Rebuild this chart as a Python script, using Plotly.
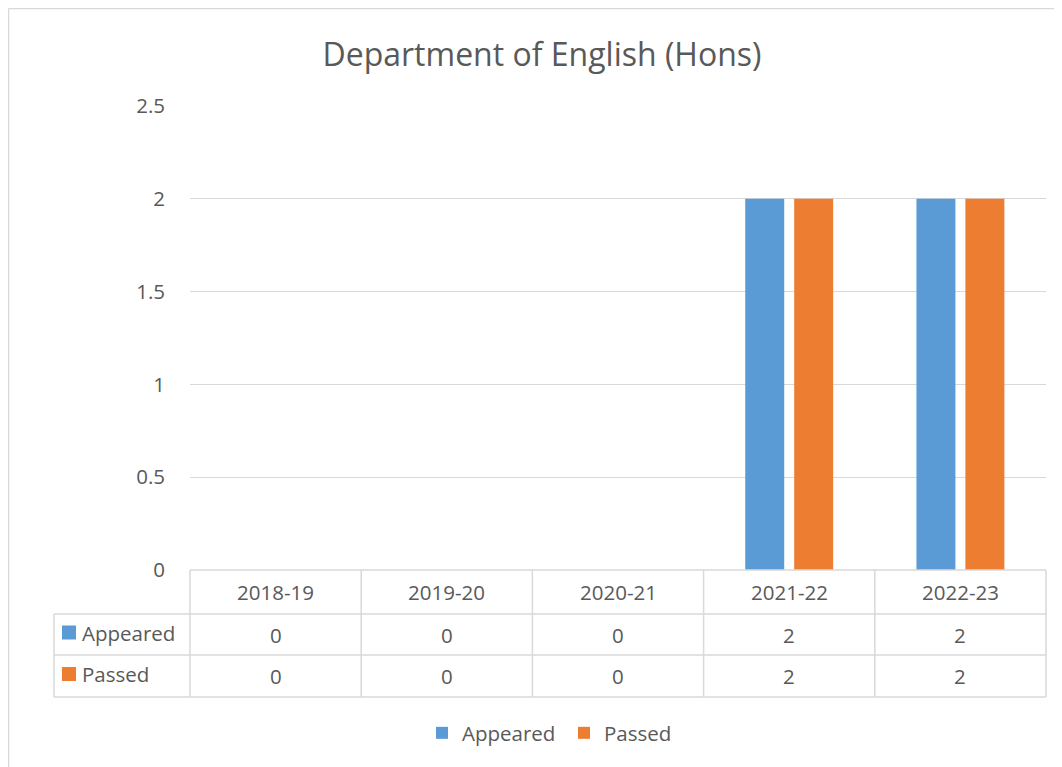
import plotly.graph_objects as go

categories = ["2018-19", "2019-20", "2020-21", "2021-22", "2022-23"]
appeared = [0, 0, 0, 2, 2]
passed = [0, 0, 0, 2, 2]
series_names = ["Appeared", "Passed"]
colors = ["#5B9BD5", "#ED7D31"]
title_text = "Department of English (Hons)"

OFF = 8  # page body margin offset
W, H = 1062 - OFF, 767 - OFF
PL, PR, PT, PB = 190, 1046, 106, 570  # plot area in reference page pixels
FONT = "'Open Sans', Lato, sans-serif"
TXT = "#595959"
GRID = "#d9d9d9"
FS = 20.5


def px(x):
    return (x - PL) / (PR - PL)


def py(y):
    return (PB - y) / (PB - PT)


fig = go.Figure()
for name, vals, col in zip(series_names, [appeared, passed], colors):
    fig.add_trace(go.Bar(x=categories, y=vals, name=name, marker=dict(color=col, line=dict(width=0))))

shapes = []
line = dict(color=GRID, width=1.5)
# outer chart border (top and left)
shapes.append(dict(type="line", xref="paper", yref="paper", x0=px(8.5), x1=px(1080), y0=py(8.5), y1=py(8.5), line=line))
shapes.append(dict(type="line", xref="paper", yref="paper", x0=px(8.5), x1=px(8.5), y0=py(8.5), y1=py(790), line=line))

# data table
ncat = len(categories)
colw = (PR - PL) / ncat
row_y = [570, 614, 655, 697]
label_x = 54
shapes.append(dict(type="line", xref="paper", yref="paper", x0=px(PL), x1=px(PR), y0=py(row_y[0]), y1=py(row_y[0]), line=line))
for yy in row_y[1:]:
    shapes.append(dict(type="line", xref="paper", yref="paper", x0=px(label_x), x1=px(PR), y0=py(yy), y1=py(yy), line=line))
shapes.append(dict(type="line", xref="paper", yref="paper", x0=px(label_x), x1=px(label_x), y0=py(row_y[1]), y1=py(row_y[3]), line=line))
for i in range(ncat + 1):
    xx = PL + i * colw
    shapes.append(dict(type="line", xref="paper", yref="paper", x0=px(xx), x1=px(xx), y0=py(row_y[0]), y1=py(row_y[3]), line=line))

annotations = []
tfont = dict(family=FONT, size=FS, color=TXT)
for i, c in enumerate(categories):
    cx = PL + (i + 0.5) * colw
    annotations.append(dict(xref="paper", yref="paper", x=px(cx), y=py((row_y[0] + row_y[1]) / 2),
                            text=c, showarrow=False, font=tfont, xanchor="center", yanchor="middle"))
    for r, vals in enumerate([appeared, passed]):
        annotations.append(dict(xref="paper", yref="paper", x=px(cx), y=py((row_y[r + 1] + row_y[r + 2]) / 2),
                                text=str(vals[i]), showarrow=False, font=tfont, xanchor="center", yanchor="middle"))
for r, (name, col) in enumerate(zip(series_names, colors)):
    yc = (row_y[r + 1] + row_y[r + 2]) / 2 - 2
    shapes.append(dict(type="rect", xref="paper", yref="paper", x0=px(62), x1=px(76), y0=py(yc - 7), y1=py(yc + 7),
                       fillcolor=col, line=dict(width=0)))
    annotations.append(dict(xref="paper", yref="paper", x=px(80), y=py(yc), text=name, showarrow=False,
                            font=tfont, xanchor="left", yanchor="middle"))

fig.update_layout(
    width=W, height=H,
    margin=dict(l=PL - OFF, r=W - (PR - OFF), t=PT - OFF, b=H - (PB - OFF), pad=0),
    paper_bgcolor="white", plot_bgcolor="white",
    barmode="group", bargap=0.428, bargroupgap=0.204,
    title=dict(text=title_text, xref="paper", x=px(542), xanchor="center", y=1 - (55 - OFF) / H, yanchor="middle",
               font=dict(family=FONT, size=32, color=TXT)),
    xaxis=dict(showticklabels=False, showgrid=False, zeroline=False, showline=False, ticks="",
               range=[-0.5, ncat - 0.5]),
    yaxis=dict(range=[0, 2.5], dtick=0.5, showgrid=True, gridcolor=GRID, gridwidth=1, zeroline=False,
               showline=False, ticks="", tickfont=dict(family=FONT, size=FS, color=TXT), ticklabelstandoff=24),
    legend=dict(orientation="h", x=px(564), xanchor="center", y=py(733), yanchor="middle",
                font=dict(family=FONT, size=FS, color=TXT), entrywidth=97, entrywidthmode="pixels",
                traceorder="normal"),
    shapes=shapes, annotations=annotations,
    showlegend=True,
)

fig.write_html("out.html")
